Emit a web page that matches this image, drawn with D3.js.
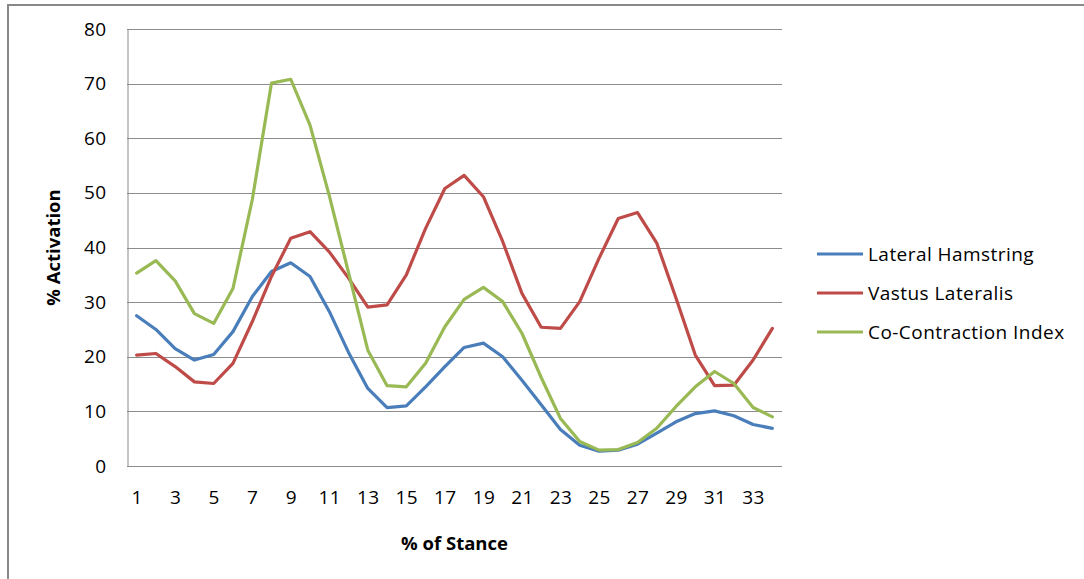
<!DOCTYPE html>
<html>
<head>
<meta charset="utf-8">
<script src="https://cdn.jsdelivr.net/npm/d3@7"></script>
<style>
  html, body { margin: 0; padding: 0; background: #fff; }
  svg { display: block; }
  text { font-family: "Open Sans", "DejaVu Sans", sans-serif; fill: #000; }
</style>
</head>
<body>
<svg id="chart" width="1084" height="579"></svg>
<script>
// % of stance (1..34)
const stance = d3.range(1, 35);
const xTickLabels = d3.range(1, 34, 2);
const yTicks = [0, 10, 20, 30, 40, 50, 60, 70, 80];

const lateralHamstring = [27.5, 25.0, 21.5, 19.4, 20.4, 24.6, 31.0, 35.6, 37.2, 34.7,
  28.3, 20.8, 14.2, 10.7, 11.0, 14.5, 18.2, 21.7, 22.5, 20.0,
  15.7, 11.2, 6.7, 3.8, 2.7, 2.9, 4.0, 6.0, 8.1, 9.6,
  10.1, 9.2, 7.6, 6.9];
const vastusLateralis = [20.3, 20.6, 18.2, 15.4, 15.1, 18.8, 26.4, 34.7, 41.7, 42.9,
  39.2, 34.4, 29.1, 29.5, 35.0, 43.5, 50.8, 53.2, 49.3, 41.1,
  31.6, 25.4, 25.2, 30.1, 38.0, 45.3, 46.4, 40.8, 30.7, 20.3,
  14.7, 14.8, 19.4, 25.2];
const coContraction = [35.3, 37.6, 33.9, 27.9, 26.1, 32.5, 48.7, 70.1, 70.8, 62.4,
  49.5, 35.4, 21.2, 14.7, 14.5, 18.8, 25.5, 30.5, 32.7, 30.1,
  24.3, 16.2, 8.7, 4.5, 2.9, 3.0, 4.3, 6.9, 10.9, 14.5,
  17.3, 15.1, 10.7, 9.0];

const seriesNames = ["Lateral Hamstring", "Vastus Lateralis", "Co-Contraction Index"];
const seriesColors = ["#4A7EBB", "#BE4B48", "#98B954"];
const seriesValues = [lateralHamstring, vastusLateralis, coContraction];

const svg = d3.select("#chart");
const plot = { left: 127, right: 782, top: 29, bottom: 466 };

const x = d3.scalePoint().domain(stance).range([plot.left, plot.right]).padding(0.5);
const y = d3.scaleLinear().domain([0, 80]).range([plot.bottom, plot.top]);

// outer chart frame (top and left edges)
svg.append("line").attr("x1", 7).attr("x2", 1084).attr("y1", 5).attr("y2", 5)
  .attr("stroke", "#898989").attr("stroke-width", 2);
svg.append("line").attr("x1", 8).attr("x2", 8).attr("y1", 4).attr("y2", 579)
  .attr("stroke", "#898989").attr("stroke-width", 2);

// horizontal gridlines
svg.append("g").selectAll("line").data(yTicks.filter(d => d > 0)).join("line")
  .attr("x1", plot.left).attr("x2", plot.right)
  .attr("y1", d => Math.round(y(d)) + 0.5).attr("y2", d => Math.round(y(d)) + 0.5)
  .attr("stroke", "#8c8c8c").attr("stroke-width", 1);

// value axis
const yAxis = d3.axisLeft(y).tickValues(yTicks).tickSize(0).tickPadding(21);
const gy = svg.append("g").attr("transform", `translate(${plot.left + 0.5},0)`).call(yAxis);
gy.select(".domain").attr("stroke", "#8c8c8c");
gy.selectAll("text").attr("font-size", 19).attr("letter-spacing", 0.4)
  .attr("font-family", "'Open Sans', sans-serif").attr("fill", "#000");

// category axis
const xAxis = d3.axisBottom(x).tickValues(xTickLabels).tickSize(0).tickPadding(24);
const gx = svg.append("g").attr("transform", `translate(0,${Math.round(plot.bottom) + 0.5})`).call(xAxis);
gx.select(".domain").attr("d", `M${plot.left},0H${plot.right}`).attr("stroke", "#8c8c8c");
gx.selectAll("text").attr("font-size", 19).attr("letter-spacing", 0.4)
  .attr("font-family", "'Open Sans', sans-serif").attr("fill", "#000");

// axis titles
svg.append("text").attr("x", (plot.left + plot.right) / 2).attr("y", 550)
  .attr("text-anchor", "middle").attr("font-size", 18.5).attr("font-weight", "bold")
  .text("% of Stance");
svg.append("text")
  .attr("transform", `translate(60,${(plot.top + plot.bottom) / 2}) rotate(-90)`)
  .attr("text-anchor", "middle").attr("font-size", 18.5).attr("font-weight", "bold")
  .text("% Activation");

// series lines
const line = d3.line().x((d, i) => x(stance[i])).y(d => y(d));
svg.append("g").selectAll("path").data(seriesValues).join("path")
  .attr("d", d => line(d))
  .attr("fill", "none")
  .attr("stroke", (d, i) => seriesColors[i])
  .attr("stroke-width", 3.2)
  .attr("stroke-linejoin", "round")
  .attr("stroke-linecap", "round");

// legend
const legend = svg.append("g").selectAll("g").data(seriesNames).join("g")
  .attr("transform", (d, i) => `translate(817,${254 + i * 39})`);
legend.append("line").attr("x1", 0).attr("x2", 46).attr("y1", 0).attr("y2", 0)
  .attr("stroke", (d, i) => seriesColors[i]).attr("stroke-width", 3.2);
legend.append("text").attr("x", 51).attr("y", 0).attr("dy", "0.35em")
  .attr("font-size", 19).attr("letter-spacing", 0.45).text(d => d);
</script>
</body>
</html>
